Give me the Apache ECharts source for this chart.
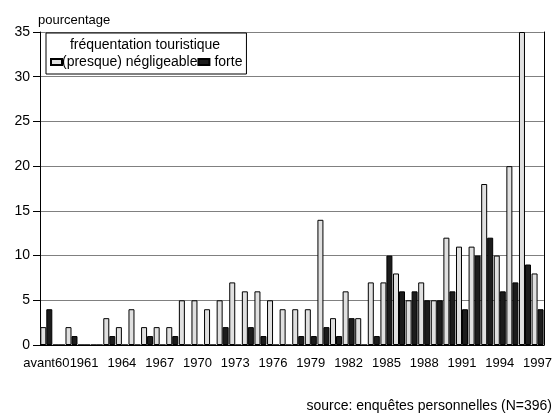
<!DOCTYPE html>
<html>
<head>
<meta charset="utf-8">
<script src="https://cdn.jsdelivr.net/npm/echarts@6/dist/echarts.min.js"></script>
<style>
  html, body { margin: 0; padding: 0; background: #fff; }
  #chart { width: 555px; height: 419px; }
</style>
</head>
<body>
<div id="chart"></div>
<script>
var categories = ['avant60', '1959', '1960', '1961', '1962', '1963', '1964', '1965', '1966', '1967',
    '1968', '1969', '1970', '1971', '1972', '1973', '1974', '1975', '1976', '1977',
    '1978', '1979', '1980', '1981', '1982', '1983', '1984', '1985', '1986', '1987',
    '1988', '1989', '1990', '1991', '1992', '1993', '1994', '1995', '1996', '1997'];

// fréquentation (presque) négligeable
var negligeable = [2, 0, 2, 0, 0, 3, 2, 4, 2, 2, 2, 5, 5, 4, 5, 7, 6, 6, 5, 4,
    4, 4, 14, 3, 6, 3, 7, 7, 8, 5, 7, 5, 12, 11, 11, 18, 10, 20, 35, 8];

// fréquentation forte
var forte = [4, 0, 1, 0, 0, 1, 0, 0, 1, 0, 1, 0, 0, 0, 2, 0, 2, 1, 0, 0,
    1, 1, 2, 1, 3, 0, 1, 10, 6, 6, 5, 5, 6, 4, 10, 12, 6, 7, 9, 4];

var yMin = 0, yMax = 35, yStep = 5;

var font = 'Liberation Sans, Arial, sans-serif';

var chart = echarts.init(document.getElementById('chart'));
var option = {
    animation: false,
    textStyle: { fontFamily: font, color: '#000' },
    title: [{
        text: 'fréquentation touristique',
        left: 145,
        top: 38,
        padding: 0,
        textAlign: 'center',
        textStyle: { fontSize: 14, fontWeight: 'normal', color: '#000', fontFamily: font }
    }, {
        text: 'source: enquêtes personnelles (N=396)',
        right: 3,
        top: 399,
        padding: 0,
        textStyle: { fontSize: 14, fontWeight: 'normal', color: '#000', fontFamily: font }
    }],
    legend: {
        left: 46,
        top: 33,
        orient: 'horizontal',
        padding: [22, 4, 5, 4],
        icon: 'rect',
        itemGap: 0,
        itemWidth: 11,
        itemHeight: 6,
        backgroundColor: '#fff',
        borderColor: '#000',
        borderWidth: 1,
        borderRadius: 0,
        textStyle: { fontSize: 14, color: '#000', fontFamily: font },
        data: [
            { name: '(presque) négligeable', textStyle: { padding: [0, 0, 0, -5] } },
            { name: 'forte', textStyle: { padding: [0, 0, 0, 0] } }
        ]
    },
    grid: { left: 40, right: 9, top: 32, bottom: 74 },
    xAxis: [{
        type: 'category',
        data: categories,
        axisLine: { lineStyle: { color: '#000', width: 1 } },
        axisTick: { alignWithLabel: true, interval: 0, length: 4, lineStyle: { color: '#000' } },
        axisLabel: {
            interval: 2, margin: 12, fontSize: 13, color: '#000', fontFamily: font,
            showMinLabel: true, showMaxLabel: true, hideOverlap: false
        },
        splitLine: { show: false }
    }, {
        type: 'category',
        position: 'top',
        data: categories,
        axisLine: { lineStyle: { color: '#000', width: 1 } },
        axisTick: { show: false },
        axisLabel: { show: false }
    }],
    yAxis: [{
        type: 'value',
        min: yMin,
        max: yMax,
        interval: yStep,
        name: 'pourcentage',
        nameLocation: 'end',
        nameGap: 5,
        nameTextStyle: { align: 'left', fontSize: 13, color: '#000', fontFamily: font, padding: [0, 0, 0, -2] },
        axisLine: { show: true, lineStyle: { color: '#000', width: 1 } },
        axisTick: { show: true, length: 7, lineStyle: { color: '#000' } },
        axisLabel: { margin: 10, fontSize: 14, color: '#000', fontFamily: font },
        splitLine: { show: true, lineStyle: { color: '#808080', width: 1 } }
    }, {
        type: 'value',
        position: 'right',
        min: yMin,
        max: yMax,
        interval: yStep,
        axisLine: { show: true, lineStyle: { color: '#000', width: 1 } },
        axisTick: { show: false },
        axisLabel: { show: false },
        splitLine: { show: false }
    }],
    series: [{
        name: '(presque) négligeable',
        type: 'bar',
        data: negligeable,
        barWidth: 6,
        barGap: '0%',
        itemStyle: { color: '#e0e0e0', borderColor: '#000', borderWidth: 1 }
    }, {
        name: 'forte',
        type: 'bar',
        data: forte,
        barWidth: 6,
        barGap: '0%',
        itemStyle: { color: '#1c1c1c', borderColor: '#000', borderWidth: 1 }
    }]
};

chart.setOption(option);
</script>
</body>
</html>
